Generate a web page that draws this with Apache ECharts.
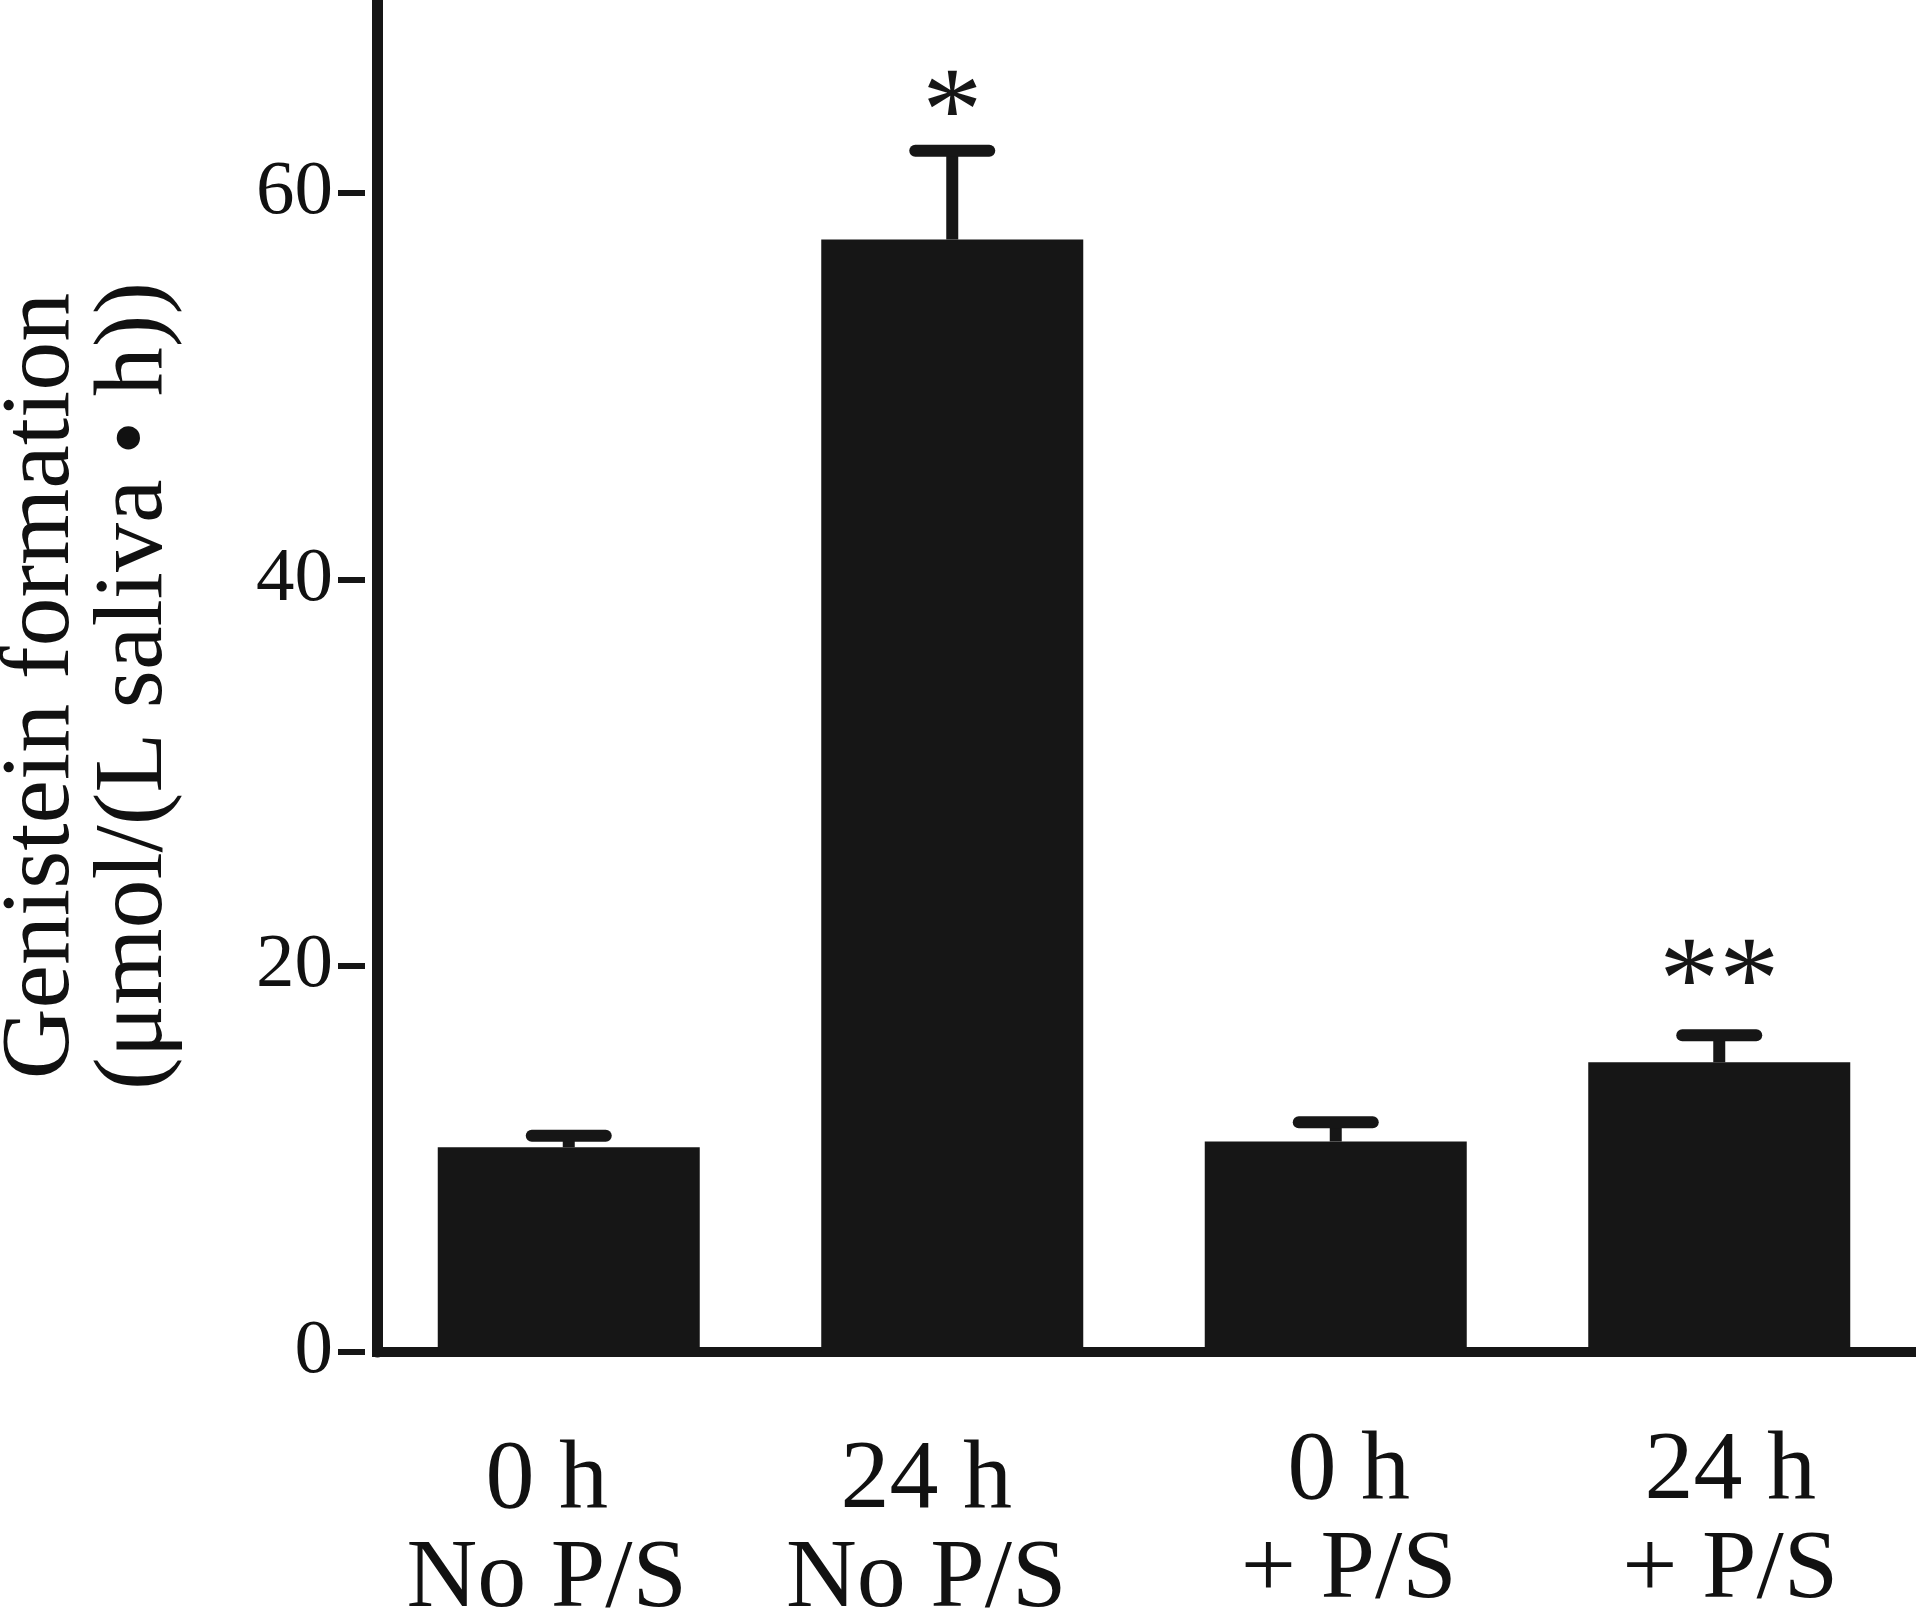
<!DOCTYPE html>
<html>
<head>
<meta charset="utf-8">
<title>Genistein formation</title>
<script src="https://cdn.jsdelivr.net/npm/echarts@6/dist/echarts.min.js"></script>
<style>
  html, body { margin: 0; padding: 0; background: #fff; }
  #main { width: 1920px; height: 1624px; }
</style>
</head>
<body>
<div id="main"></div>
<script>
  // data
  var categories = ['0 h\nNo P/S', '24 h\nNo P/S', '0 h\n+ P/S', '24 h\n+ P/S']
  var means = [10.6, 57.6, 10.9, 15.0]
  var errorTops = [11.2, 62.2, 11.9, 16.4]
  var marks = ['', '*', '', '**']
  var markLevels = [null, 65, null, 20]
  var yTicks = [0, 20, 40, 60]

  var ink = '#161616'
  var serif = '"Liberation Serif", "DejaVu Serif", serif'

  // small nudges so the labels sit where they do in the figure
  var labelPads = [[9, 44, 0, 0], [9, 52, 0, 0], [0, 0, 0, 26], [0, 0, 0, 22]]

  var chart = echarts.init(document.getElementById('main'))

  chart.setOption({
    animation: false,
    grid: { left: 377, right: 9, top: 0, bottom: 272, containLabel: false, outerBoundsMode: 'none' },
    xAxis: {
      type: 'category',
      data: categories.map(function (c, i) {
        return { value: c, textStyle: { padding: labelPads[i] } }
      }),
      offset: 5,
      axisLine: { lineStyle: { color: ink, width: 10, cap: 'square' } },
      axisTick: { alignWithLabel: true, length: 26, lineStyle: { color: ink, width: 6 } },
      axisLabel: {
        margin: 66,
        fontFamily: serif,
        fontSize: 98,
        lineHeight: 99,
        color: '#111'
      },
      splitLine: { show: false }
    },
    yAxis: [
      {
        type: 'value', min: 0, max: 70,
        name: 'Genistein formation\n(μmol/(L saliva • h))',
        nameLocation: 'middle',
        nameGap: 195,
        nameTextStyle: { fontFamily: serif, fontSize: 98, lineHeight: 93, color: '#111', padding: [0, 20, 0, 0] },
        axisLine: { show: true, lineStyle: { color: ink, width: 11, cap: 'round' } },
        axisTick: { show: false },
        axisLabel: { show: false },
        splitLine: { show: false }
      },
      {
        type: 'value', min: 0, max: 70,
        position: 'left',
        offset: 12,
        axisLine: { show: false },
        axisTick: { show: true, length: 27, customValues: yTicks, lineStyle: { color: ink, width: 6 } },
        axisLabel: {
          customValues: yTicks,
          margin: 32,
          fontFamily: serif,
          fontSize: 77,
          color: '#111'
        },
        splitLine: { show: false }
      }
    ],
    series: [
      {
        type: 'bar',
        data: means,
        barWidth: 262,
        itemStyle: { color: ink }
      },
      {
        type: 'custom',
        data: means.map(function (m, i) { return [i, m, errorTops[i]] }),
        renderItem: function (params, api) {
          var i = api.value(0)
          var base = api.coord([i, api.value(1)])
          var top = api.coord([i, api.value(2)])
          var half = 37
          var children = [
            { type: 'line', shape: { x1: base[0], y1: base[1], x2: top[0], y2: top[1] },
              style: { stroke: ink, lineWidth: 12 } },
            { type: 'line', shape: { x1: top[0] - half, y1: top[1], x2: top[0] + half, y2: top[1] },
              style: { stroke: ink, lineWidth: 12, lineCap: 'round' } }
          ]
          if (marks[i]) {
            var p = api.coord([i, markLevels[i]])
            children.push({
              type: 'text',
              style: {
                text: marks[i], x: p[0], y: p[1] + 22,
                align: 'center', verticalAlign: 'middle',
                font: '120px ' + serif, fill: ink
              }
            })
          }
          return { type: 'group', children: children }
        },
        z: 3
      }
    ]
  })
</script>
</body>
</html>
